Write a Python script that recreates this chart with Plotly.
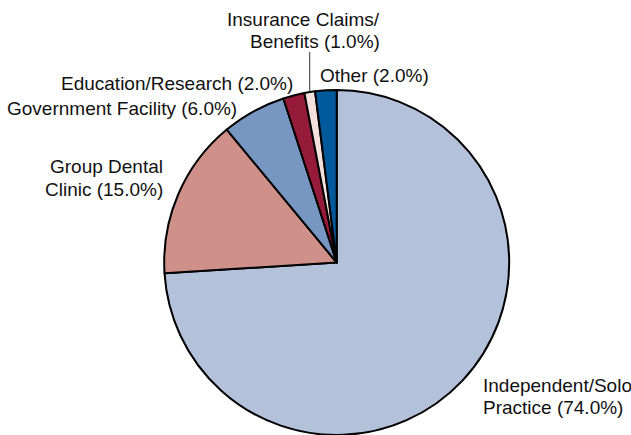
import math
import plotly.graph_objects as go

categories = ["Independent/Solo Practice", "Group Dental Clinic", "Government Facility",
              "Education/Research", "Insurance Claims/Benefits", "Other"]
values = [74.0, 15.0, 6.0, 2.0, 1.0, 2.0]
label_lines = [["Independent/Solo", "Practice (74.0%)"], ["Group Dental", "Clinic (15.0%)"],
               ["Government Facility (6.0%)"], ["Education/Research (2.0%)"],
               ["Insurance Claims/", "Benefits (1.0%)"], ["Other (2.0%)"]]
colors = ["#b3c1db", "#d0908a", "#7896c2", "#961a3a", "#f5e1dc", "#00599a"]

W, H = 631, 435
cx, cy, r = 336.7, 262.5, 172.5
LINE_GAP = 22

fig = go.Figure(go.Pie(
    labels=categories, values=values, sort=False, direction="clockwise", rotation=0,
    marker=dict(colors=colors, line=dict(color="#000000", width=2)),
    textinfo="none", hoverinfo="label+percent", showlegend=False,
    domain=dict(x=[(cx - r) / W, (cx + r) / W], y=[0, 2 * r / H]),
))

# label block positions (pixel x edge, pixel y of first line centre, anchor)
label_pos = [
    (481, 385, "left"),
    (165, 167, "right"),
    (239, 109, "right"),
    (295, 83, "right"),
    (382, 19.5, "right"),
    (318, 75, "left"),
]
for lines, (px, py, xa) in zip(label_lines, label_pos):
    for i, line in enumerate(lines):
        fig.add_annotation(x=px / W, y=1 - (py + i * LINE_GAP) / H, xref="paper", yref="paper",
                           text=line, showarrow=False, xanchor=xa, yanchor="middle",
                           font=dict(family="Liberation Sans, Arial", size=19, color="#111111"))

# leader line for the insurance slice, from slice mid-angle
total = sum(values)
start = sum(values[:4])
mid = (start + values[4] / 2) / total * 2 * math.pi
lx = cx + r * math.sin(mid)
ly = cy - r * math.cos(mid)
fig.add_shape(type="line", xref="paper", yref="paper",
              x0=lx / W, x1=lx / W, y0=1 - ly / H, y1=1 - 52 / H,
              line=dict(color="#333333", width=1))

fig.update_layout(width=W, height=H, margin=dict(l=0, r=0, t=0, b=0),
                  paper_bgcolor="white", plot_bgcolor="white")
fig.write_html("out.html", config={"displayModeBar": False},
               post_script="document.body.style.margin='0';")
